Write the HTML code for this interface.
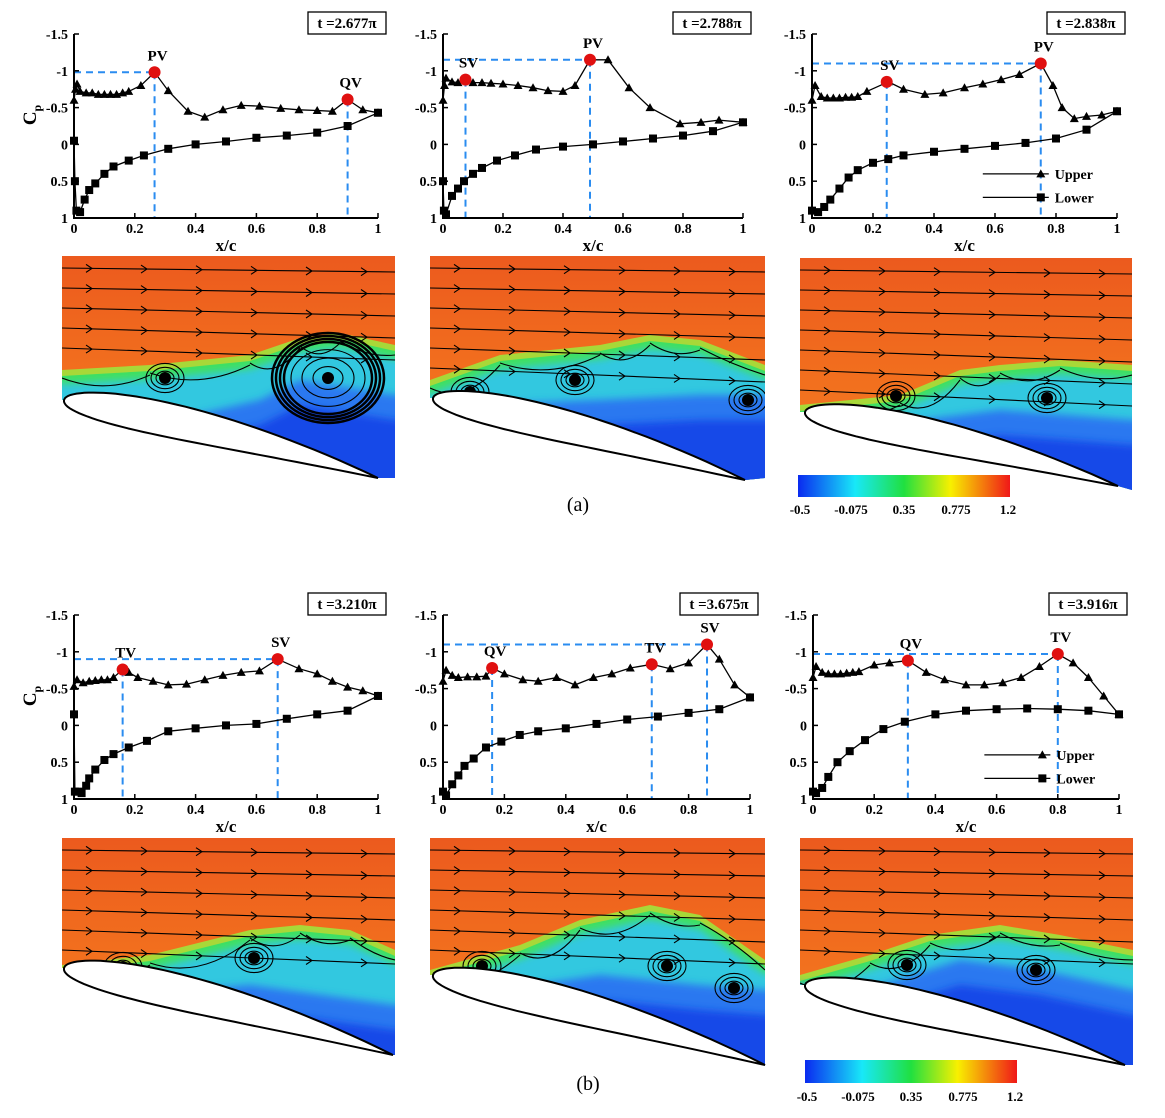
<!DOCTYPE html>
<html><head><meta charset="utf-8">
<style>
html,body{margin:0;padding:0;background:#fff;}
svg{display:block;font-family:"Liberation Serif",serif;}
</style></head>
<body>
<svg id="fig" width="1165" height="1118" viewBox="0 0 1165 1118" xmlns="http://www.w3.org/2000/svg">
<defs>
<linearGradient id="redg" x1="0" y1="0" x2="0" y2="1">
<stop offset="0" stop-color="#ec5a1e"/><stop offset="0.5" stop-color="#f2701e"/><stop offset="1" stop-color="#f0802a"/>
</linearGradient>
<linearGradient id="cbar" x1="0" y1="0" x2="1" y2="0">
<stop offset="0" stop-color="#0a2af0"/><stop offset="0.27" stop-color="#18e8f8"/><stop offset="0.5" stop-color="#20e040"/><stop offset="0.72" stop-color="#f8f000"/><stop offset="1" stop-color="#f01818"/>
</linearGradient>
<filter id="soft"><feGaussianBlur stdDeviation="4"/></filter>
</defs>
<g id="fields"></g>
<g id="charts"></g>
<text x="578" y="511" font-size="20" text-anchor="middle">(a)</text>
<text x="588" y="1090" font-size="20" text-anchor="middle">(b)</text>
<g>
<rect x="798" y="475" width="212" height="22" fill="url(#cbar)"/>
<g font-size="13" font-weight="bold" text-anchor="middle">
<text x="800" y="514">-0.5</text><text x="851" y="514">-0.075</text><text x="904" y="514">0.35</text><text x="956" y="514">0.775</text><text x="1008" y="514">1.2</text></g>
</g>
<g>
<rect x="805" y="1060" width="212" height="23" fill="url(#cbar)"/>
<g font-size="13" font-weight="bold" text-anchor="middle">
<text x="807" y="1101">-0.5</text><text x="858" y="1101">-0.075</text><text x="911" y="1101">0.35</text><text x="963" y="1101">0.775</text><text x="1015" y="1101">1.2</text></g>
</g>
</svg>
<script>
// ---- chart data ----
const xTicks=[0,0.2,0.4,0.6,0.8,1];
const xTickLabels=["0","0.2","0.4","0.6","0.8","1"];
const yTicks=[-1.5,-1,-0.5,0,0.5,1];
const yTickLabels=["-1.5","-1","-0.5","0","0.5","1"];
const times=["t =2.677\u03c0","t =2.788\u03c0","t =2.838\u03c0","t =3.210\u03c0","t =3.675\u03c0","t =3.916\u03c0"];

const upX1=[0,0.005,0.01,0.02,0.04,0.06,0.08,0.1,0.12,0.14,0.16,0.18,0.22,0.265,0.31,0.375,0.43,0.49,0.55,0.61,0.68,0.74,0.8,0.85,0.9,0.95,1];
const upCp1=[-0.6,-0.75,-0.82,-0.72,-0.7,-0.7,-0.68,-0.68,-0.68,-0.68,-0.7,-0.72,-0.8,-0.98,-0.73,-0.45,-0.37,-0.47,-0.53,-0.52,-0.49,-0.47,-0.46,-0.45,-0.61,-0.47,-0.43];
const loX1=[0,0.003,0.008,0.02,0.035,0.05,0.07,0.1,0.13,0.18,0.23,0.31,0.4,0.5,0.6,0.7,0.8,0.9,1];
const loCp1=[-0.05,0.5,0.9,0.92,0.75,0.62,0.53,0.4,0.3,0.22,0.15,0.06,0.0,-0.04,-0.09,-0.12,-0.16,-0.25,-0.43];
const pkLab1=["PV","QV"], pkX1=[0.265,0.9], pkCp1=[-0.98,-0.61];

const upX2=[0,0.005,0.01,0.03,0.05,0.075,0.1,0.13,0.16,0.2,0.25,0.3,0.35,0.4,0.44,0.49,0.55,0.62,0.69,0.79,0.86,0.92,1];
const upCp2=[-0.6,-0.8,-0.9,-0.85,-0.84,-0.88,-0.84,-0.84,-0.83,-0.82,-0.8,-0.77,-0.73,-0.72,-0.8,-1.15,-1.15,-0.77,-0.5,-0.28,-0.3,-0.33,-0.3];
const loX2=[0,0.003,0.01,0.03,0.05,0.07,0.1,0.13,0.18,0.24,0.31,0.4,0.5,0.6,0.7,0.8,0.9,1];
const loCp2=[0.5,0.9,0.95,0.7,0.6,0.5,0.4,0.32,0.22,0.15,0.07,0.03,0.0,-0.04,-0.08,-0.12,-0.18,-0.3];
const pkLab2=["SV","PV"], pkX2=[0.075,0.49], pkCp2=[-0.88,-1.15];

const upX3=[0,0.01,0.03,0.05,0.07,0.09,0.11,0.13,0.15,0.18,0.25,0.3,0.37,0.43,0.5,0.56,0.62,0.68,0.75,0.79,0.82,0.86,0.9,0.95,1];
const upCp3=[-0.6,-0.8,-0.65,-0.63,-0.63,-0.63,-0.64,-0.64,-0.65,-0.72,-0.85,-0.75,-0.68,-0.7,-0.77,-0.82,-0.88,-0.95,-1.1,-0.8,-0.5,-0.35,-0.38,-0.4,-0.45];
const loX3=[0,0.02,0.04,0.06,0.09,0.12,0.15,0.2,0.25,0.3,0.4,0.5,0.6,0.7,0.8,0.9,1];
const loCp3=[0.9,0.92,0.85,0.75,0.6,0.45,0.35,0.25,0.2,0.15,0.1,0.06,0.02,-0.02,-0.08,-0.2,-0.45];
const pkLab3=["SV","PV"], pkX3=[0.245,0.75], pkCp3=[-0.85,-1.1];

const upX4=[0,0.01,0.03,0.05,0.07,0.09,0.11,0.13,0.16,0.18,0.21,0.26,0.31,0.37,0.43,0.49,0.55,0.61,0.67,0.74,0.8,0.85,0.9,0.95,1];
const upCp4=[-0.53,-0.62,-0.58,-0.6,-0.61,-0.62,-0.62,-0.65,-0.76,-0.72,-0.65,-0.6,-0.55,-0.56,-0.62,-0.68,-0.72,-0.74,-0.9,-0.77,-0.7,-0.6,-0.52,-0.47,-0.4];
const loX4=[0,0.003,0.015,0.025,0.04,0.05,0.07,0.1,0.13,0.18,0.24,0.31,0.4,0.5,0.6,0.7,0.8,0.9,1];
const loCp4=[-0.15,0.9,0.9,0.92,0.82,0.72,0.6,0.47,0.39,0.3,0.21,0.08,0.04,0.0,-0.02,-0.09,-0.15,-0.2,-0.4];
const pkLab4=["TV","SV"], pkX4=[0.16,0.67], pkCp4=[-0.76,-0.9];

const upX5=[0,0.01,0.03,0.05,0.08,0.11,0.14,0.16,0.2,0.26,0.31,0.37,0.43,0.49,0.55,0.61,0.68,0.74,0.8,0.86,0.9,0.95,1];
const upCp5=[-0.6,-0.75,-0.68,-0.65,-0.66,-0.66,-0.67,-0.78,-0.7,-0.62,-0.6,-0.65,-0.55,-0.65,-0.7,-0.78,-0.83,-0.77,-0.85,-1.1,-0.9,-0.55,-0.38];
const loX5=[0,0.01,0.03,0.05,0.07,0.1,0.14,0.19,0.25,0.31,0.4,0.5,0.6,0.7,0.8,0.9,1];
const loCp5=[0.9,0.95,0.8,0.68,0.55,0.45,0.3,0.22,0.13,0.08,0.04,-0.02,-0.08,-0.12,-0.17,-0.22,-0.38];
const pkLab5=["QV","TV","SV"], pkX5=[0.16,0.68,0.86], pkCp5=[-0.78,-0.83,-1.1];

const upX6=[0,0.01,0.03,0.05,0.07,0.09,0.11,0.13,0.15,0.2,0.25,0.31,0.37,0.43,0.5,0.56,0.62,0.68,0.74,0.8,0.85,0.9,0.95,1];
const upCp6=[-0.65,-0.8,-0.72,-0.7,-0.7,-0.7,-0.71,-0.72,-0.73,-0.82,-0.85,-0.88,-0.72,-0.62,-0.55,-0.55,-0.58,-0.65,-0.8,-0.97,-0.85,-0.65,-0.4,-0.15];
const loX6=[0,0.01,0.03,0.05,0.08,0.12,0.17,0.23,0.3,0.4,0.5,0.6,0.7,0.8,0.9,1];
const loCp6=[0.9,0.92,0.85,0.7,0.5,0.35,0.2,0.05,-0.05,-0.15,-0.2,-0.22,-0.23,-0.22,-0.2,-0.15];
const pkLab6=["QV","TV"], pkX6=[0.31,0.8], pkCp6=[-0.88,-0.97];

const NS="http://www.w3.org/2000/svg";
function mk(tag,attrs,parent){const e=document.createElementNS(NS,tag);for(const k in attrs)e.setAttribute(k,attrs[k]);if(parent)parent.appendChild(e);return e;}

const panels=[
 {x0:74,w:304,y0:34,up:[upX1,upCp1],lo:[loX1,loCp1],pk:[pkLab1,pkX1,pkCp1],t:times[0],legend:false},
 {x0:443,w:300,y0:34,up:[upX2,upCp2],lo:[loX2,loCp2],pk:[pkLab2,pkX2,pkCp2],t:times[1],legend:false},
 {x0:812,w:305,y0:34,up:[upX3,upCp3],lo:[loX3,loCp3],pk:[pkLab3,pkX3,pkCp3],t:times[2],legend:true},
 {x0:74,w:304,y0:615,up:[upX4,upCp4],lo:[loX4,loCp4],pk:[pkLab4,pkX4,pkCp4],t:times[3],legend:false},
 {x0:443,w:307,y0:615,up:[upX5,upCp5],lo:[loX5,loCp5],pk:[pkLab5,pkX5,pkCp5],t:times[4],legend:false},
 {x0:813,w:306,y0:615,up:[upX6,upCp6],lo:[loX6,loCp6],pk:[pkLab6,pkX6,pkCp6],t:times[5],legend:true}
];
const charts=document.getElementById('charts');
panels.forEach((p,i)=>{
 const g=mk('g',{},charts);
 
 
 const sx=v=>p.x0+v*p.w;
 const sy=v=>p.y0+(v+1.5)*73.6;
 const yb=sy(1);
 // peaks dashed lines
 const pl=p.pk[0],px=p.pk[1],pc=p.pk[2];
 let mi=0;pc.forEach((c,k)=>{if(c<pc[mi])mi=k;});
 const hl=mk('line',{x1:p.x0,y1:sy(pc[mi]),x2:sx(px[mi]),y2:sy(pc[mi]),stroke:'#2a8cf0','stroke-width':2,'stroke-dasharray':'7,5'},g);
 
 
 px.forEach((x,k)=>{
  const vl=mk('line',{x1:sx(x),y1:sy(pc[k]),x2:sx(x),y2:yb,stroke:'#2a8cf0','stroke-width':2,'stroke-dasharray':'7,5'},g);
  
  
 });
 // axes
 const ax=mk('path',{d:`M${p.x0},${sy(-1.5)}V${yb}H${sx(1)}`,fill:'none',stroke:'#000','stroke-width':2},g);
 
 
 yTicks.forEach((v,k)=>{
  mk('line',{x1:p.x0,y1:sy(v),x2:p.x0+5,y2:sy(v),stroke:'#000','stroke-width':1.5},g);
  const t=mk('text',{x:p.x0-6,y:sy(v)+5,'font-size':14,'font-weight':'bold','text-anchor':'end'},g);
  t.textContent=yTickLabels[k];
  
  
 });
 xTicks.forEach((v,k)=>{
  mk('line',{x1:sx(v),y1:yb,x2:sx(v),y2:yb-5,stroke:'#000','stroke-width':1.5},g);
  const t=mk('text',{x:sx(v),y:yb+15,'font-size':14,'font-weight':'bold','text-anchor':'middle'},g);
  t.textContent=xTickLabels[k];
  
  
 });
 const xt=mk('text',{x:sx(0.5),y:yb+33,'font-size':17,'font-weight':'bold','text-anchor':'middle'},g);
 xt.textContent='x/c';
 
 
 if(i===0||i===3){
  const yt=mk('text',{transform:`translate(36,${sy(-0.4)}) rotate(-90)`,'font-size':19,'font-weight':'bold','text-anchor':'middle'},g);
  yt.innerHTML='C<tspan font-size="12" dy="5">p</tspan>';
  
  
 }
 // series
 function series(xs,cs,kind){
  const d=xs.map((x,k)=>(k?'L':'M')+sx(x).toFixed(1)+','+sy(cs[k]).toFixed(1)).join('');
  const l=mk('path',{d:d,fill:'none',stroke:'#000','stroke-width':1.3},g);
  
  
  xs.forEach((x,k)=>{
   const cx=sx(x),cy=sy(cs[k]);let m;
   if(kind==='upper') m=mk('path',{d:`M${cx},${cy-4.5}L${cx+4.5},${cy+3.5}L${cx-4.5},${cy+3.5}Z`,fill:'#000'},g);
   else m=mk('rect',{x:cx-4,y:cy-4,width:8,height:8,fill:'#000'},g);
   
   
  });
 }
 series(p.lo[0],p.lo[1],'lower');
 series(p.up[0],p.up[1],'upper');
 px.forEach((x,k)=>{
  const c=mk('circle',{cx:sx(x),cy:sy(pc[k]),r:6,fill:'#e01010'},g);
  
  
  const t=mk('text',{x:sx(x)+(x>0.95?0:3),y:sy(pc[k])-12,'font-size':15,'font-weight':'bold','text-anchor':'middle'},g);
  t.textContent=pl[k];
  
  
 });
 // time box
 const bx=sx(1)+8, by=p.y0-22;
 const tb=mk('g',{},g);
 
 
 mk('rect',{x:bx-78,y:by,width:78,height:22,fill:'#fff',stroke:'#000','stroke-width':1.3},tb);
 const tt=mk('text',{x:bx-39,y:by+16,'font-size':15,'font-weight':'bold','text-anchor':'middle'},tb);
 tt.textContent=p.t;
 if(p.legend){
  const lg=mk('g',{},g);
  
  
  const lx=sx(0.56), ly1=sy(0.4), ly2=sy(0.72);
  [['Upper',ly1,'tri'],['Lower',ly2,'sq']].forEach(e=>{
   const en=mk('g',{},lg);
   
   
   mk('line',{x1:lx,y1:e[1],x2:lx+66,y2:e[1],stroke:'#000','stroke-width':1.3},en);
   const cx=lx+58;
   if(e[2]==='tri') mk('path',{d:`M${cx},${e[1]-4.5}L${cx+4.5},${e[1]+3.5}L${cx-4.5},${e[1]+3.5}Z`},en);
   else mk('rect',{x:cx-4,y:e[1]-4,width:8,height:8},en);
   const t=mk('text',{x:lx+72,y:e[1]+5,'font-size':14,'font-weight':'bold'},en);
   t.textContent=e[0];
  });
 }
});

// ---- flow field panels (illustrative images) ----
const fieldCfg=[
 {r:[62,256,395,478],le:[64,400],te:[378,478],rb:478,ifc:[[62,370],[150,365],[250,355],[300,338],[340,333],[395,345]],blue:[[150,425],[260,400],[300,380],[395,395]],vort:[[165,378],[328,378]],big:true},
 {r:[430,256,765,478],le:[433,398],te:[745,480],rb:478,ifc:[[430,380],[500,355],[600,345],[650,335],[700,340],[765,365]],blue:[[470,405],[600,400],[700,395],[765,395]],vort:[[470,392],[575,380],[748,400]]},
 {r:[800,258,1132,490],le:[805,412],te:[1118,486],rb:490,ifc:[[800,405],[900,395],[960,370],[1000,365],[1060,360],[1132,365]],blue:[[880,425],[1000,410],[1132,420]],vort:[[896,396],[1047,398]]},
 {r:[62,838,395,1055],le:[64,968],te:[393,1055],rb:1055,ifc:[[62,965],[150,955],[250,930],[300,925],[350,930],[395,950]],blue:[[120,995],[250,985],[395,1005]],vort:[[123,967],[254,958]]},
 {r:[430,838,765,1065],le:[433,975],te:[765,1065],rb:1065,ifc:[[430,970],[520,945],[580,920],[650,905],[700,915],[765,960]],blue:[[500,990],[600,975],[700,985],[765,990]],vort:[[482,966],[667,966],[734,988]]},
 {r:[800,838,1133,1065],le:[805,985],te:[1125,1065],rb:1065,ifc:[[800,975],[870,955],[930,935],[1000,925],[1060,935],[1133,950]],blue:[[880,985],[960,960],[1040,970],[1133,990]],vort:[[907,965],[1036,970]]}
];
const fields=document.getElementById('fields');
function airfoil(le,te){
 const dx=te[0]-le[0],dy=te[1]-le[1],c=Math.hypot(dx,dy),ux=dx/c,uy=dy/c,nx=uy,ny=-ux;
 const up=[],lo=[];
 for(let k=0;k<=40;k++){const t=Math.pow(k/40,1.8);
  const yt=5*0.105*(0.2969*Math.sqrt(t)-0.126*t-0.3516*t*t+0.2843*t*t*t-0.1036*t*t*t*t)*c;
  const cam=0.02*c*4*t*(1-t);
  const bx=le[0]+ux*t*c,by=le[1]+uy*t*c;
  up.push([bx+nx*(yt+cam),by+ny*(yt+cam)]);lo.push([bx-nx*(yt-cam),by-ny*(yt-cam)]);}
 return {up,lo};
}
fieldCfg.forEach((f,i)=>{
 const g=mk('g',{},fields);
 
 
 const [x1,y1,x2,y2]=f.r;
 const af=airfoil(f.le,f.te);
 const up=af.up.slice().reverse();
 const regionPts=[[x1,y1],[x2,y1],[x2,f.rb],[f.te[0],f.te[1]]].concat(up).concat([[x1,f.le[1]]]);
 const cid='clip'+i;
 const cp=mk('clipPath',{id:cid},g);
 mk('polygon',{points:regionPts.map(p=>p.join(',')).join(' ')},cp);
 const cg=mk('g',{'clip-path':`url(#${cid})`},g);
 mk('rect',{x:x1,y:y1,width:x2-x1,height:y2-y1+20,fill:'url(#redg)'},cg);
 const bot=y2+30;
 const poly=(pts,off,fill,extra)=>{const p=pts.map(q=>[q[0],q[1]+off]);p.push([x2+10,bot],[x1-10,bot]);
   const e=mk('polygon',Object.assign({points:p.map(q=>q.join(',')).join(' '),fill:fill},extra||{}),cg);return e;};
 const ifc=[[x1-10,f.ifc[0][1]]].concat(f.ifc).concat([[x2+10,f.ifc[f.ifc.length-1][1]]]);
 poly(ifc,0,'#a8d838');
 poly(ifc,6,'#40e060');
 poly(ifc,14,'#30c8e0',{filter:'url(#soft)'});
 const bl=[[x1-10,f.blue[0][1]]].concat(f.blue).concat([[x2+10,f.blue[f.blue.length-1][1]]]);
 poly(bl,0,'#2a78f0',{filter:'url(#soft)'});
 poly(bl,25,'#1848e8',{filter:'url(#soft)'});
 // streamlines
 const sl=mk('g',{fill:'none',stroke:'#000','stroke-width':1.1},cg);
 
 
 for(let k=0;k<7;k++){
  const yy=y1+12+k*20;
  if(yy>f.ifc[0][1]-8) break;
  mk('path',{d:`M${x1},${yy} L${x2},${yy+4+k*2}`},sl);
  for(let ax=x1+30;ax<x2-10;ax+=55){const ay=yy+(ax-x1)/(x2-x1)*(4+k*2);
   mk('path',{d:`M${ax-6},${ay-4}L${ax},${ay}L${ax-6},${ay+4}`},sl);}
 }
 f.ifc.forEach((q,k)=>{if(k<f.ifc.length-1){const n=f.ifc[k+1];
  mk('path',{d:`M${q[0]},${q[1]+8}Q${(q[0]+n[0])/2},${q[1]+25} ${n[0]},${n[1]+10}`},sl);}});
 f.vort.forEach((v,k)=>{
  const r0=f.big&&k===1?22:10;
  for(let j=1;j<=3;j++) mk('ellipse',{cx:v[0],cy:v[1],rx:r0*j/2+4,ry:r0*j/2.6+3},sl);
  const d=mk('circle',{cx:v[0],cy:v[1],r:6,fill:'#000',stroke:'none'},cg);
  
  
 });
 if(f.big){const v=f.vort[1];for(let j=0;j<4;j++)mk('ellipse',{cx:v[0],cy:v[1],rx:44+j*4,ry:36+j*3,stroke:'#000','stroke-width':2.5,fill:'none'},cg);}
 const foil=af.up.concat(af.lo.slice().reverse());
 const fp=mk('polygon',{points:foil.map(q=>q[0].toFixed(1)+','+q[1].toFixed(1)).join(' '),fill:'#fff',stroke:'#000','stroke-width':2},g);
 
 
});
</script>
</body></html>
